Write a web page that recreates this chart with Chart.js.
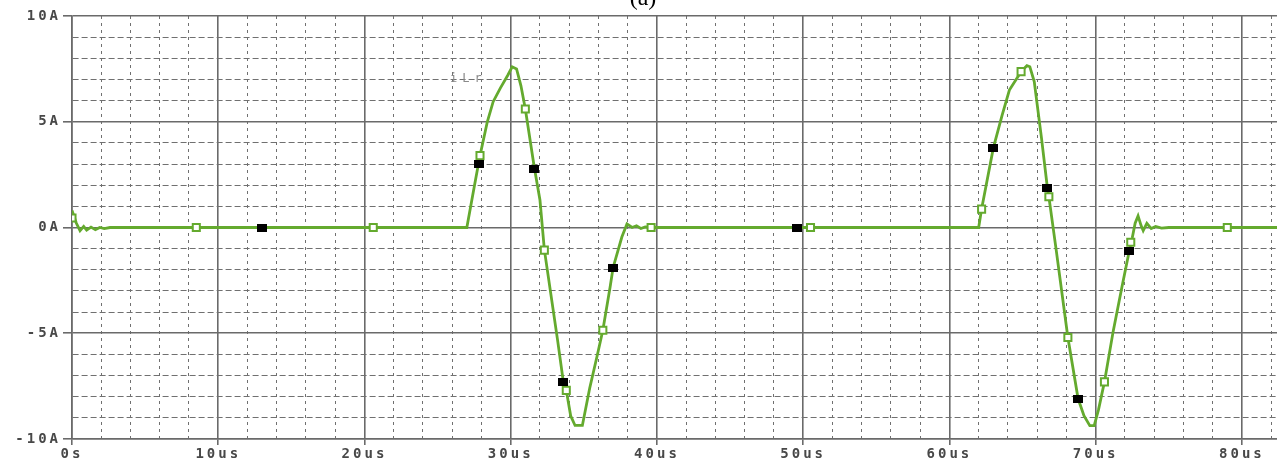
<!DOCTYPE html>
<html>
<head>
<meta charset="utf-8">
<script src="https://cdn.jsdelivr.net/npm/chart.js@4/dist/chart.umd.min.js"></script>
<style>
  html, body { margin: 0; padding: 0; background: #fff; }
  canvas { display: block; }
</style>
</head>
<body>
<canvas id="plot" width="1277" height="466"></canvas>
<script>
// i(Lr) trace, time in us, current in A
const timeUs = [
  0, 0.3, 0.55, 0.8, 1.0, 1.3, 1.6, 1.9, 2.2, 2.6,
  27.0, 27.5, 27.9, 28.4, 28.8, 29.3, 29.8, 30.1, 30.4, 30.7, 31.0, 31.6, 32.0, 32.3,
  33.2, 33.6, 33.8, 34.1, 34.4, 34.9, 35.4, 35.9, 36.3, 36.8, 37.0, 37.6, 37.95,
  38.3, 38.6, 38.9, 39.2, 39.6,
  62.0, 62.2, 63.0, 63.6, 64.1, 64.9, 65.3, 65.5, 65.8, 66.3, 66.7, 66.8, 67.3,
  68.1, 68.8, 69.2, 69.6, 69.9, 70.2, 70.6, 71.2, 71.8, 72.3, 72.5, 72.7, 72.9,
  73.1, 73.25, 73.5, 73.8, 74.1, 74.5, 75.0, 82.4
];
const currentA = [
  0.8, 0.2, -0.15, 0.05, -0.12, 0.02, -0.1, 0.0, -0.05, 0,
  0, 1.9, 3.4, 5.0, 5.95, 6.6, 7.2, 7.6, 7.5, 6.7, 5.6, 2.9, 1.3, -1.05,
  -5.3, -7.3, -7.7, -8.9, -9.36, -9.36, -7.6, -6.1, -4.86, -2.8, -1.9, -0.45, 0.17,
  0.0, 0.08, -0.05, 0.03, 0,
  0, 0.87, 3.75, 5.3, 6.5, 7.37, 7.65, 7.6, 6.9, 4.2, 1.87, 1.45, -1.06,
  -5.2, -8.1, -8.9, -9.37, -9.37, -8.6, -7.3, -4.9, -2.8, -1.1, -0.5, 0.2, 0.55,
  0.1, -0.15, 0.2, -0.05, 0.05, -0.03, 0, 0
];

// open green trace markers
const greenMarkT = [0, 8.5, 20.6, 27.9, 31.0, 32.3, 33.8, 36.3, 39.6, 50.5, 62.2, 64.9, 66.8, 68.1, 70.6, 72.4, 79.0];
const greenMarkA = [0.45, 0, 0, 3.4, 5.6, -1.07, -7.7, -4.86, 0, 0, 0.87, 7.37, 1.45, -5.2, -7.3, -0.7, 0];

// filled black markers
const blackMarkT = [13.0, 27.8, 31.6, 33.6, 37.0, 49.6, 63.0, 66.7, 68.8, 72.3];
const blackMarkA = [0, 3.0, 2.75, -7.3, -1.9, 0, 3.75, 1.87, -8.1, -1.1];

// axis ticks
const xTickValues = [];
for (let t = 0; t <= 82; t += 2) xTickValues.push(t);
const yTickValues = [];
for (let a = -10; a <= 10; a += 1) yTickValues.push(a);
const xMax = 82.4;

function xLabel(v) {
  if (v % 10 !== 0) return "";
  return v === 0 ? "0s" : v + "us";
}
function yLabel(v) {
  if (v % 5 !== 0) return "";
  return v + "A";
}

const traceGreen = "#64aa2e";
const gridSolid = "#6a6a6a";
const gridDash = "#707070";
const labelFont = { family: "'DejaVu Sans Mono', monospace", size: 14, weight: "bold" };

// black marker image (wider than tall)
const blackBox = document.createElement("canvas");
blackBox.width = 10;
blackBox.height = 8;
const bctx = blackBox.getContext("2d");
bctx.fillStyle = "#000";
bctx.fillRect(0, 0, 10, 8);

const toPoints = (xs, ys) => xs.map((x, i) => ({ x: x, y: ys[i] }));

const spacingPlugin = {
  id: "spacing",
  beforeDraw(chart) {
    chart.ctx.letterSpacing = "3px";
  },
  afterDraw(chart) {
    const ctx = chart.ctx;
    ctx.save();
    ctx.letterSpacing = "0px";
    ctx.fillStyle = "#000";
    ctx.font = "24px 'Liberation Serif', serif";
    ctx.textAlign = "center";
    ctx.textBaseline = "alphabetic";
    ctx.fillText("(a)", 643, 5);
    ctx.letterSpacing = "5px";
    ctx.fillStyle = "#8a8a8a";
    ctx.font = "12px 'DejaVu Sans Mono', monospace";
    ctx.textAlign = "left";
    ctx.fillText("iLr", 450, 82);
    ctx.restore();
  }
};

new Chart(document.getElementById("plot"), {
  type: "line",
  data: {
    datasets: [
      {
        label: "black",
        type: "scatter",
        data: toPoints(blackMarkT, blackMarkA),
        pointStyle: blackBox,
        pointRadius: 5,
        order: 0
      },
      {
        label: "green",
        type: "scatter",
        data: toPoints(greenMarkT, greenMarkA),
        pointStyle: "rect",
        pointRadius: 5,
        pointBorderWidth: 2,
        pointBorderColor: traceGreen,
        pointBackgroundColor: "#fff",
        order: 1
      },
      {
        label: "iLr",
        data: toPoints(timeUs, currentA),
        borderColor: traceGreen,
        borderWidth: 2.8,
        pointRadius: 0,
        tension: 0,
        fill: false,
        order: 2
      }
    ]
  },
  options: {
    responsive: false,
    animation: false,
    events: [],
    layout: { autoPadding: false, padding: { top: 16, left: 0, right: 0, bottom: 0 } },
    plugins: {
      legend: { display: false },
      tooltip: { enabled: false },
      title: { display: false }
    },
    scales: {
      x: {
        type: "linear",
        min: 0,
        max: xMax,
        afterBuildTicks: (scale) => { scale.ticks = xTickValues.map(v => ({ value: v })); },
        afterFit: (scale) => { scale.height = 27; scale.paddingRight = 0; scale.paddingLeft = 0; },
        ticks: {
          autoSkip: false,
          maxRotation: 0,
          padding: 1,
          color: "#484848",
          font: labelFont,
          callback: (v) => xLabel(v)
        },
        grid: {
          color: (c) => (c.tick && c.tick.value % 10 === 0) ? gridSolid : gridDash,
          lineWidth: (c) => (c.tick && c.tick.value % 10 === 0) ? 1.6 : 1,
          tickColor: (c) => (c.tick && c.tick.value % 10 === 0) ? gridSolid : "rgba(0,0,0,0)",
          tickLength: 6
        },
        border: {
          display: true,
          color: gridSolid,
          width: 1.6,
          dash: (c) => (c.tick && c.tick.value % 10 === 0) ? [] : [3, 4]
        }
      },
      y: {
        type: "linear",
        min: -10,
        max: 10,
        afterBuildTicks: (scale) => { scale.ticks = yTickValues.map(v => ({ value: v })); },
        afterFit: (scale) => { scale.width = 72; },
        ticks: {
          autoSkip: false,
          padding: 2,
          color: "#484848",
          font: labelFont,
          callback: (v) => yLabel(v)
        },
        grid: {
          color: (c) => (c.tick && c.tick.value % 5 === 0) ? gridSolid : gridDash,
          lineWidth: (c) => (c.tick && c.tick.value % 5 === 0) ? 1.6 : 1,
          tickColor: (c) => (c.tick && c.tick.value % 5 === 0) ? gridSolid : "rgba(0,0,0,0)",
          tickLength: 9
        },
        border: {
          display: true,
          color: gridSolid,
          width: 1.6,
          dash: (c) => (c.tick && c.tick.value % 5 === 0) ? [] : [6, 3]
        }
      }
    }
  },
  plugins: [spacingPlugin]
});
</script>
</body>
</html>
